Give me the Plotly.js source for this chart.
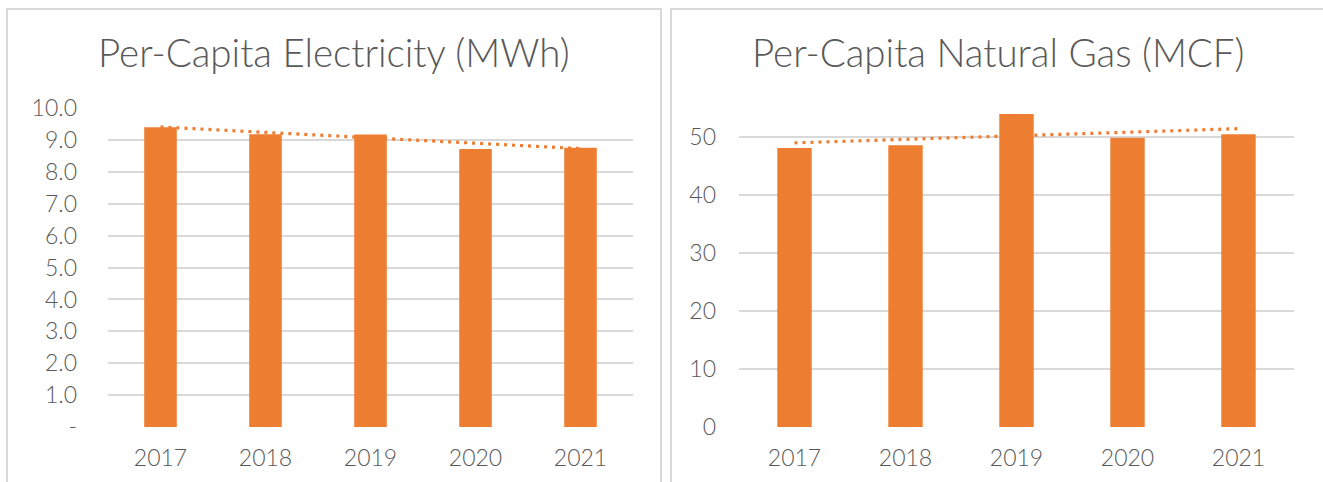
<!DOCTYPE html>
<html>
<head>
<meta charset="utf-8">
<script src="https://cdn.plot.ly/plotly-3.0.1.min.js"></script>
<style>
  html, body { margin: 0; padding: 0; background: #ffffff; }
  #chart { width: 1323px; height: 482px; }
</style>
</head>
<body>
<div id="chart"></div>
<script>
// ---- data ----
const years = ['2017', '2018', '2019', '2020', '2021'];
const electricity = [9.40, 9.18, 9.17, 8.72, 8.76];
const naturalGas = [48.1, 48.6, 54.0, 49.9, 50.5];
const trendYears = ['2017', '2021'];
const electricityTrend = [9.41, 8.73];
const naturalGasTrend = [49.0, 51.45];
const elecTickVals = [0, 1, 2, 3, 4, 5, 6, 7, 8, 9, 10];
const elecTickText = ['-', '1.0', '2.0', '3.0', '4.0', '5.0', '6.0', '7.0', '8.0', '9.0', '10.0'];
const gasTickVals = [0, 10, 20, 30, 40, 50];
const gasTickText = ['0', '10', '20', '30', '40', '50'];
const titles = ['Per-Capita Electricity (MWh)', 'Per-Capita Natural Gas (MCF)'];

// ---- styling ----
const W = 1323, H = 482;
const ORANGE = '#ED7D31';
const TEXT = '#595959';
const GRID = '#D9D9D9';
const FONT = 'Lato, "Open Sans", sans-serif';
const px = v => v / W;
const py = v => (H - v) / H;

const traces = [
  { type: 'bar', x: years, y: electricity, xaxis: 'x', yaxis: 'y',
    marker: { color: ORANGE }, hoverinfo: 'x+y' },
  { type: 'scatter', mode: 'lines', x: trendYears, y: electricityTrend, xaxis: 'x', yaxis: 'y',
    line: { color: ORANGE, width: 3.2, dash: '3px,5px' } },
  { type: 'bar', x: years, y: naturalGas, xaxis: 'x2', yaxis: 'y2',
    marker: { color: ORANGE }, hoverinfo: 'x+y' },
  { type: 'scatter', mode: 'lines', x: trendYears, y: naturalGasTrend, xaxis: 'x2', yaxis: 'y2',
    line: { color: ORANGE, width: 3.2, dash: '3px,5px' } }
];

const tickFont = { family: FONT, size: 23, color: TEXT, weight: 300 };

const xCommon = {
  type: 'category', showgrid: false, zeroline: false, showline: false,
  ticks: '', tickfont: tickFont,
  ticklabelstandoff: 15, fixedrange: true
};
const yCommon = {
  showgrid: true, gridcolor: GRID, gridwidth: 2, zeroline: false, showline: false,
  ticks: '', tickfont: tickFont, fixedrange: true,
  tickmode: 'array'
};

const plotTop = 107.5, plotBottom = 427;

const layout = {
  width: W, height: H,
  margin: { l: 0, r: 0, t: 0, b: 0 },
  paper_bgcolor: '#ffffff', plot_bgcolor: '#ffffff',
  showlegend: false,
  bargap: 0.69,
  font: { family: FONT, color: TEXT },
  xaxis: Object.assign({}, xCommon, { domain: [px(108), px(633)], anchor: 'y' }),
  yaxis: Object.assign({}, yCommon, {
    domain: [py(plotBottom), py(plotTop)], anchor: 'x',
    range: [0, 10.02], tickvals: elecTickVals, ticktext: elecTickText,
    ticklabelstandoff: 30
  }),
  xaxis2: Object.assign({}, xCommon, { domain: [px(739), px(1294)], anchor: 'y2' }),
  yaxis2: Object.assign({}, yCommon, {
    domain: [py(plotBottom), py(plotTop)], anchor: 'x2',
    range: [0, 55.1], tickvals: gasTickVals, ticktext: gasTickText,
    ticklabelstandoff: 22
  }),
  shapes: [
    { type: 'rect', xref: 'paper', yref: 'paper', x0: px(7), x1: px(661), y0: -0.1, y1: py(9),
      line: { color: GRID, width: 2 }, fillcolor: 'rgba(0,0,0,0)', layer: 'below' },
    { type: 'rect', xref: 'paper', yref: 'paper', x0: px(671), x1: 1.1, y0: -0.1, y1: py(9),
      line: { color: GRID, width: 2 }, fillcolor: 'rgba(0,0,0,0)', layer: 'below' }
  ],
  annotations: [
    { text: titles[0], xref: 'paper', yref: 'paper', x: px(334), y: py(52),
      xanchor: 'center', yanchor: 'middle', showarrow: false,
      font: { family: FONT, size: 38.5, color: TEXT, weight: 300 } },
    { text: titles[1], xref: 'paper', yref: 'paper', x: px(998), y: py(52),
      xanchor: 'center', yanchor: 'middle', showarrow: false,
      font: { family: FONT, size: 38.5, color: TEXT, weight: 300 } }
  ]
};

Plotly.newPlot('chart', traces, layout, { displayModeBar: false, staticPlot: true });
</script>
</body>
</html>
